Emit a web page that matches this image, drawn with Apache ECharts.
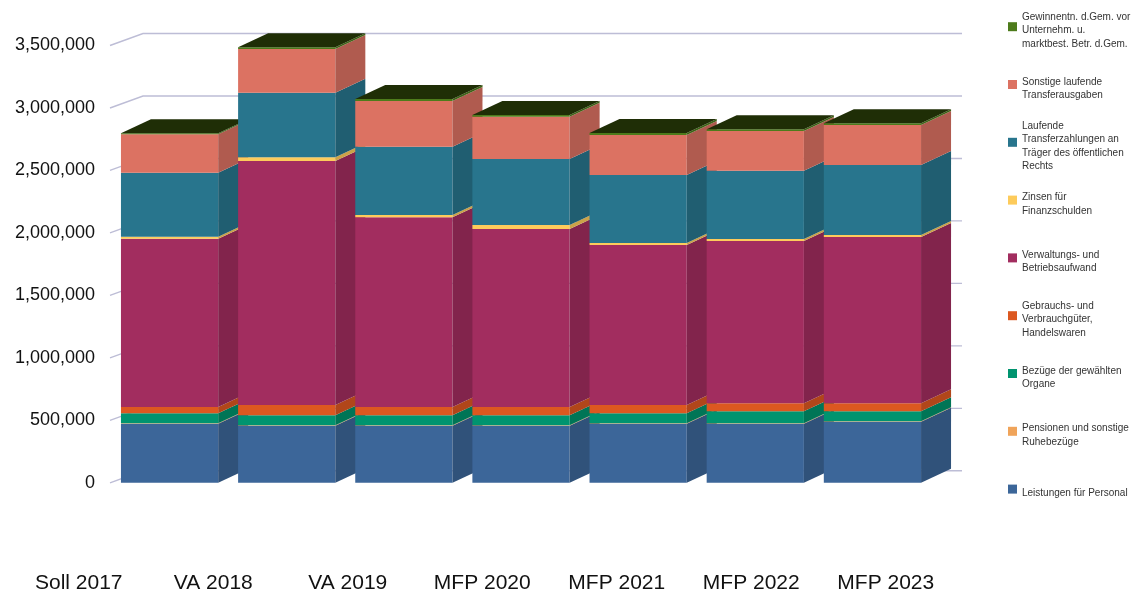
<!DOCTYPE html>
<html><head><meta charset="utf-8">
<script src="https://cdn.jsdelivr.net/npm/echarts@6/dist/echarts.min.js"></script>
<style>html,body{margin:0;padding:0;background:#fff}#c{width:1132px;height:594px}</style>
</head><body><div id="c"></div>
<script>
// ---------- data ----------
const categories = ['Soll 2017', 'VA 2018', 'VA 2019', 'MFP 2020', 'MFP 2021', 'MFP 2022', 'MFP 2023'];
const yTicks = [0, 500000, 1000000, 1500000, 2000000, 2500000, 3000000, 3500000];

const leistungen = [473000, 457000, 457000, 457000, 473000, 473000, 489000];
const pensionen  = [3000, 3000, 3000, 3000, 3000, 3000, 3000];
const bezuege    = [80000, 80000, 80000, 80000, 80000, 96000, 80000];
const gebrauch   = [51000, 83000, 67000, 67000, 67000, 64000, 64000];
const verwaltung = [1347000, 1952000, 1518000, 1424000, 1280000, 1299000, 1331000];
const zinsen     = [16000, 30000, 18000, 32000, 16000, 16000, 16000];
const laufende   = [512000, 517000, 547000, 528000, 544000, 547000, 560000];
const sonstige   = [307000, 350000, 366000, 339000, 320000, 317000, 320000];
const gewinn     = [8000, 13000, 16000, 14000, 16000, 14000, 14000];

const seriesNames = [
  'Leistungen für Personal',
  'Pensionen und sonstige Ruhebezüge',
  'Bezüge der gewählten Organe',
  'Gebrauchs- und Verbrauchgüter, Handelswaren',
  'Verwaltungs- und Betriebsaufwand',
  'Zinsen für Finanzschulden',
  'Laufende Transferzahlungen an Träger des öffentlichen Rechts',
  'Sonstige laufende Transferausgaben',
  'Gewinnentn. d.Gem. vor Unternehm. u. marktbest. Betr. d.Gem.'
];
const legendLabels = [
  'Leistungen für Personal',
  'Pensionen und sonstige\nRuhebezüge',
  'Bezüge der gewählten\nOrgane',
  'Gebrauchs- und\nVerbrauchgüter,\nHandelswaren',
  'Verwaltungs- und\nBetriebsaufwand',
  'Zinsen für\nFinanzschulden',
  'Laufende\nTransferzahlungen an\nTräger des öffentlichen\nRechts',
  'Sonstige laufende\nTransferausgaben',
  'Gewinnentn. d.Gem. vor\nUnternehm. u.\nmarktbest. Betr. d.Gem.'
];
const seriesValues = [leistungen, pensionen, bezuege, gebrauch, verwaltung, zinsen, laufende, sonstige, gewinn];

// ---------- styles ----------
const frontColors = ['#3C6699', '#F0A45A', '#00946F', '#DC5820', '#A22D5F', '#FDCB5B', '#28758D', '#DC7262', '#4D7B1B'];
const sideColors  = ['#30527A', '#C08348', '#007556', '#B1461A', '#82244C', '#CBA248', '#205E71', '#B05B4F', '#3E6216'];
const TOP_COLOR = '#1F2E06';
const FONT = '"Liberation Sans", Arial, sans-serif';
const BAR_RATIO = 0.83, DX = 30, DY = 14;      // bar depth
const WDX = 32, WDY = 12, WALL_EXTRA = 31;     // back wall offset
const LEG_LH = 13.3, LEG_TOP0 = 26.7, LEG_STEP = 57.8, LEG_SHIFT = 8;

// ---------- build: one row per category, with cumulative stack boundaries ----------
const NS = seriesValues.length;
const barRows = categories.map((_, i) => {
  const row = [i, 0];
  let acc = 0;
  seriesValues.forEach(vals => { acc += vals[i]; row.push(acc); });
  return row;
});

function renderBar(params, api) {
  const c = api.value(0);
  const bw = api.size([1, 0])[0] * BAR_RATIO;
  const children = [];
  for (let s = 0; s < NS; s++) {
    const pLo = api.coord([c, api.value(1 + s)]);
    const pHi = api.coord([c, api.value(2 + s)]);
    const xl = pLo[0] - bw / 2, xr = pLo[0] + bw / 2;
    children.push({ type: 'rect', shape: { x: xl, y: pHi[1], width: bw, height: pLo[1] - pHi[1] },
      style: { fill: frontColors[s] } });
    children.push({ type: 'polygon',
      shape: { points: [[xr, pHi[1]], [xr + DX, pHi[1] - DY], [xr + DX, pLo[1] - DY], [xr, pLo[1]]] },
      style: { fill: sideColors[s] } });
    if (s === NS - 1) {
      children.push({ type: 'polygon',
        shape: { points: [[xl, pHi[1]], [xl + DX, pHi[1] - DY], [xr + DX, pHi[1] - DY], [xr, pHi[1]]] },
        style: { fill: TOP_COLOR } });
    }
  }
  return { type: 'group', children };
}

const yDims = [];
for (let k = 1; k <= NS + 1; k++) yDims.push(k);

const series = [{
  type: 'custom', name: '__wall', silent: true, z: 1, xAxisIndex: 0, yAxisIndex: 0,
  data: yTicks.map(v => [0, v]), encode: { x: 0, y: 1 },
  renderItem: function (params, api) {
    const cs = params.coordSys;
    const y = api.coord([0, api.value(1)])[1];
    const x0 = cs.x;
    return { type: 'polyline',
      shape: { points: [[x0 - 1, y], [x0 + WDX, y - WDY], [cs.x + cs.width + WALL_EXTRA, y - WDY]] },
      style: { stroke: '#BDBDD6', lineWidth: 1.4, fill: null } };
  }
}, {
  type: 'custom', name: '__bars', silent: true, z: 3, xAxisIndex: 0, yAxisIndex: 0,
  data: barRows, encode: { x: 0, y: yDims },
  renderItem: renderBar
}];
// legend entries (colour carriers)
seriesNames.forEach((n, s) => {
  series.push({ type: 'custom', name: n, silent: true, xAxisIndex: 0, yAxisIndex: 0,
    itemStyle: { color: frontColors[s] }, data: [], renderItem: () => null });
});

const legends = [];
for (let k = 0; k < NS; k++) {
  const s = NS - 1 - k;
  const lines = legendLabels[s].split('\n').length;
  const center = LEG_TOP0 + k * LEG_STEP;
  legends.push({
    data: [seriesNames[s]], orient: 'vertical', left: 1008,
    top: center - (lines * LEG_LH + LEG_SHIFT) / 2,
    padding: 0, itemWidth: 9, itemHeight: 9, icon: 'rect', selectedMode: false,
    formatter: () => '{s| }\n' + legendLabels[s],
    textStyle: { fontSize: 10, lineHeight: LEG_LH, color: '#333', fontFamily: FONT,
      rich: { s: { fontSize: 1, lineHeight: LEG_SHIFT } } }
  });
}

const fmt = v => String(v).replace(/\B(?=(\d{3})+(?!\d))/g, ',');

const option = {
  animation: false,
  backgroundColor: '#fff',
  grid: [
    { left: 111, right: 201, top: 45.5, bottom: 111.2 },
    { left: 11.5, right: 179, top: 555, bottom: 28.5 }
  ],
  xAxis: [
    { type: 'category', gridIndex: 0, data: categories, show: false },
    { type: 'category', gridIndex: 1, data: categories,
      axisLine: { show: false }, axisTick: { show: false },
      axisLabel: { fontSize: 21, color: '#111', fontFamily: FONT, margin: 8 } }
  ],
  yAxis: [
    { type: 'value', gridIndex: 0, min: 0, max: 3500000, interval: 500000,
      axisLine: { show: false }, axisTick: { show: false }, splitLine: { show: false },
      axisLabel: { fontSize: 18, color: '#111', fontFamily: FONT, margin: 16, formatter: fmt } },
    { type: 'value', gridIndex: 1, show: false, splitLine: { show: false } }
  ],
  legend: legends,
  series
};
const chart = echarts.init(document.getElementById('c'), null, { renderer: 'canvas' });
chart.setOption(option);
</script></body></html>
